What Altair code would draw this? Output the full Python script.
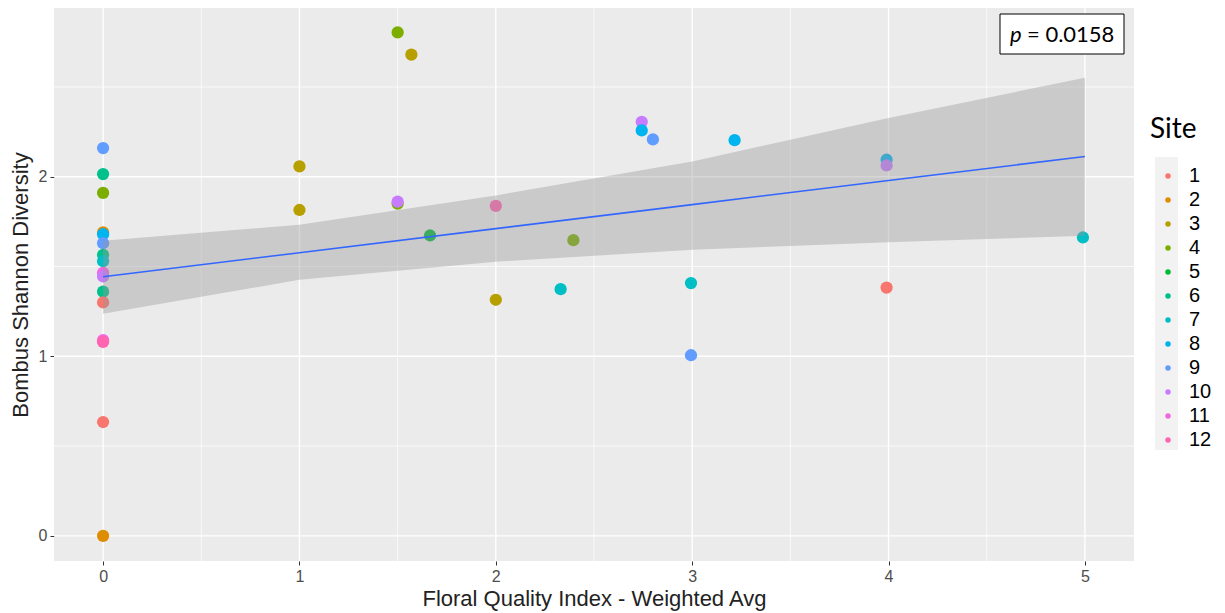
import altair as alt
import pandas as pd

# ---- data ----
pt_x = [0, 0, 0, 0, 0, 0, 0, 0, 0, 0, 0, 0, 0, 0, 0, 0,
        1, 1, 1.5, 1.57, 1.5, 1.5, 1.665, 2, 2.395, 2, 2.33,
        2.743, 2.743, 2.80, 3.216, 2.994, 2.994, 3.99, 3.99, 3.99, 4.99]
pt_y = [2.16, 2.015, 1.91, 1.69, 1.68, 1.63, 1.565, 1.53, 1.465, 1.445, 1.36, 1.30, 1.09, 1.08, 0.634, 0.0,
        2.058, 1.815, 2.804, 2.68, 1.85, 1.862, 1.673, 1.838, 1.647, 1.315, 1.374,
        2.306, 2.258, 2.208, 2.204, 1.408, 1.006, 2.095, 2.063, 1.383, 1.662]
pt_site = ["9", "6", "4", "2", "8", "9", "6", "7", "11", "10", "6", "1", "11", "12", "1", "2",
           "3", "3", "4", "3", "4", "10", "5", "12", "4", "3", "7",
           "10", "8", "9", "8", "7", "9", "8", "10", "1", "7"]

fit_x = [0, 1, 2, 3, 4, 5]
fit_y = [1.443, 1.577, 1.711, 1.845, 1.979, 2.113]
fit_lo = [1.237, 1.426, 1.527, 1.593, 1.636, 1.671]
fit_hi = [1.643, 1.733, 1.896, 2.085, 2.327, 2.552]

sites = [str(i) for i in range(1, 13)]
site_colors = ["#F8766D", "#DE8C00", "#B79F00", "#7CAE00", "#00BA38", "#00C08B",
               "#00BFC4", "#00B4F0", "#619CFF", "#C77CFF", "#F564E3", "#FF64B0"]

x_ticks = [0, 1, 2, 3, 4, 5]
y_ticks = [0, 1, 2]
x_minor = [0.5, 1.5, 2.5, 3.5, 4.5]
y_minor = [0.5, 1.5, 2.5]

p_label = "= 0.0158"

# ---- tables ----
pts = pd.DataFrame({"x": pt_x, "y": pt_y, "site": pt_site})
fit = pd.DataFrame({"x": fit_x, "y": fit_y, "lo": fit_lo, "hi": fit_hi})

xs = alt.Scale(domain=[-0.25, 5.25], nice=False, zero=False)
ys = alt.Scale(domain=[-0.14, 2.94], nice=False, zero=False)

xaxis = alt.Axis(values=x_ticks, title="Floral Quality Index - Weighted Avg", format="d",
                 grid=False, domain=False,
                 tickColor="#333333", tickSize=4, labelColor="#4D4D4D", labelFontSize=16,
                 labelFont="Liberation Sans", titleFont="Liberation Sans", titleFontSize=22,
                 titleFontWeight="normal", titleColor="#222222", labelPadding=3, titlePadding=4)
yaxis = alt.Axis(values=y_ticks, title="Bombus Shannon Diversity", format="d",
                 grid=False, domain=False,
                 tickColor="#333333", tickSize=4, labelColor="#4D4D4D", labelFontSize=16,
                 labelFont="Liberation Sans", titleFont="Liberation Sans", titleFontSize=22,
                 titleFontWeight="normal", titleColor="#222222", labelPadding=3, titlePadding=6)

minor_x = alt.Chart(pd.DataFrame({"v": x_minor})).mark_rule(color="white", strokeWidth=0.7).encode(
    x=alt.X("v:Q", scale=xs, axis=xaxis))
minor_y = alt.Chart(pd.DataFrame({"v": y_minor})).mark_rule(color="white", strokeWidth=0.7).encode(
    y=alt.Y("v:Q", scale=ys, axis=yaxis))
major_x = alt.Chart(pd.DataFrame({"v": x_ticks})).mark_rule(color="white", strokeWidth=1.4).encode(
    x=alt.X("v:Q", scale=xs))
major_y = alt.Chart(pd.DataFrame({"v": y_ticks})).mark_rule(color="white", strokeWidth=1.4).encode(
    y=alt.Y("v:Q", scale=ys))

points = alt.Chart(pts).mark_circle(size=150, opacity=1).encode(
    x=alt.X("x:Q", scale=xs, axis=xaxis),
    y=alt.Y("y:Q", scale=ys, axis=yaxis),
    color=alt.Color("site:N", scale=alt.Scale(domain=sites, range=site_colors),
                    legend=alt.Legend(title="Site", orient="none", legendX=1096, legendY=108,
                                      titleFontSize=28, titleFont="Lato", titleFontWeight="normal",
                                      titleColor="black", titlePadding=22,
                                      labelFontSize=20, labelFont="Liberation Sans", labelColor="black",
                                      symbolType="circle", symbolSize=30, symbolStrokeWidth=0,
                                      symbolOffset=8, labelOffset=11, rowPadding=4, padding=0)),
)

band = alt.Chart(fit).mark_area(color="#999999", opacity=0.4).encode(
    x=alt.X("x:Q", scale=xs), y=alt.Y("lo:Q", scale=ys), y2="hi:Q")
line = alt.Chart(fit).mark_line(color="#3366FF", strokeWidth=1.6).encode(
    x=alt.X("x:Q", scale=xs), y=alt.Y("y:Q", scale=ys))

key_bg = alt.Chart(pd.DataFrame({"a": [0]})).mark_rect(color="#F2F2F2").encode(
    x=alt.value(1101), x2=alt.value(1124), y=alt.value(149), y2=alt.value(442))

pbox = alt.Chart(pd.DataFrame({"a": [0]})).mark_rect(fill="white", stroke="black", strokeWidth=1).encode(
    x=alt.value(946), x2=alt.value(1070), y=alt.value(6), y2=alt.value(46))
ptxt = alt.Chart(pd.DataFrame({"t": ["p"]})).mark_text(
    font="Lato", fontSize=22, fontStyle="italic", align="left", baseline="middle", color="black").encode(
    x=alt.value(956), y=alt.value(27), text="t:N")
vtxt = alt.Chart(pd.DataFrame({"t": [p_label]})).mark_text(
    font="Lato", fontSize=22, align="left", baseline="middle", color="black").encode(
    x=alt.value(973), y=alt.value(27), text="t:N")

chart = alt.layer(minor_x, minor_y, major_x, major_y, key_bg, points, band, line, pbox, ptxt, vtxt).properties(
    width=1080, height=553,
    background="white",
    autosize=alt.AutoSizeParams(type="none"),
    padding={"left": 46, "top": 0, "right": 83, "bottom": 50},
).configure_view(fill="#EBEBEB", strokeOpacity=0, strokeWidth=0)

chart.save("out.html", embed_options={"renderer": "svg", "actions": False})
